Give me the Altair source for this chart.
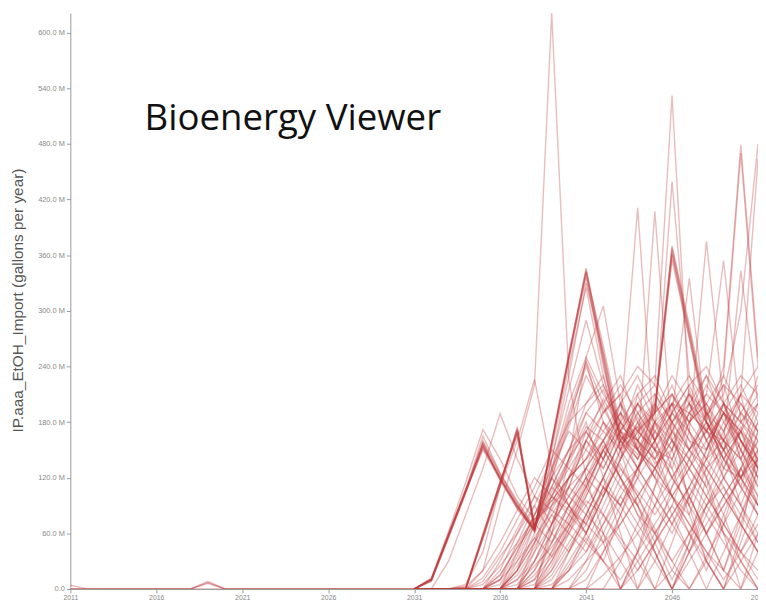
import altair as alt
import pandas as pd

# ---------------- data ----------------
years_early = list(range(2011, 2032))
years_main = list(range(2031, 2052))

early_series = {
    "E1": [4, 0, 0, 0, 0, 0, 0, 0, 0, 0, 0, 0, 0, 0, 0, 0, 0, 0, 0, 0, 0],
    "E2": [0, 0, 0, 0, 0, 0, 0, 0, 8, 0, 0, 0, 0, 0, 0, 0, 0, 0, 0, 0, 0],
    "E3": [0, 0, 0, 0, 0, 0, 0, 0, 6, 0, 0, 0, 0, 0, 0, 0, 0, 0, 0, 0, 0],
    "E4": [0, 0, 0, 0, 0, 0, 0, 0, 7, 0, 0, 0, 0, 0, 0, 0, 0, 0, 0, 0, 0],
}

# values in millions of gallons per year, 2031..2051
main_series = {
    "A1": [0, 10, 58, 106, 155, 119, 88, 63, 158, 252, 346, 250, 160, 172, 195, 368, 280, 190, 150, 210, 130],
    "A2": [0, 9, 56, 104, 152, 121, 90, 64, 156, 250, 340, 245, 158, 170, 192, 362, 275, 185, 220, 160, 140],
    "A3": [0, 11, 60, 108, 157, 117, 86, 62, 155, 248, 336, 240, 162, 175, 198, 370, 285, 195, 130, 120, 170],
    "A4": [0, 10, 57, 105, 150, 118, 89, 65, 150, 240, 325, 230, 165, 140, 200, 160, 130, 175, 120, 160, 130],
    "A5": [0, 8, 55, 103, 158, 123, 92, 61, 130, 200, 250, 210, 180, 150, 120, 190, 170, 140, 160, 110, 170],
    "A6": [0, 10, 59, 107, 165, 125, 95, 66, 128, 190, 245, 200, 155, 175, 135, 150, 215, 160, 130, 175, 140],
    "A7": [0, 10, 58, 106, 154, 120, 89, 64, 157, 251, 344, 255, 165, 150, 180, 200, 150, 120, 160, 140, 190],
    "A8": [0, 9, 57, 105, 156, 120, 87, 63, 157, 249, 342, 248, 150, 168, 190, 355, 270, 180, 140, 170, 150],
    "A9": [0, 10, 58, 107, 153, 118, 90, 64, 140, 215, 290, 220, 170, 130, 160, 210, 180, 150, 190, 160, 130],
    "A10": [0, 11, 59, 106, 160, 124, 93, 66, 120, 175, 230, 195, 160, 185, 150, 140, 190, 170, 150, 180, 200],
    "B1": [0, 0, 0, 0, 57, 114, 171, 65, 120, 180, 245, 180, 140, 210, 160, 120, 90, 150, 200, 140, 100],
    "B2": [0, 0, 0, 2, 60, 116, 168, 63, 125, 185, 240, 190, 210, 150, 130, 170, 140, 110, 150, 190, 160],
    "B3": [0, 0, 0, 0, 55, 112, 172, 62, 160, 255, 342, 262, 175, 160, 194, 365, 278, 188, 210, 300, 480],
    "B4": [0, 0, 0, 1, 58, 115, 165, 68, 110, 150, 200, 230, 150, 120, 210, 180, 150, 130, 170, 120, 140],
    "B5": [0, 0, 0, 0, 54, 110, 175, 70, 95, 120, 160, 205, 170, 140, 180, 220, 170, 140, 200, 160, 120],
    "B6": [0, 0, 0, 0, 56, 113, 170, 64, 140, 230, 330, 255, 170, 150, 190, 360, 272, 186, 160, 200, 170],
    "B7": [0, 0, 0, 1, 57, 113, 169, 66, 105, 140, 190, 215, 165, 145, 175, 200, 160, 150, 190, 170, 130],
    "B8": [0, 0, 0, 0, 58, 115, 173, 67, 100, 135, 175, 160, 190, 170, 150, 130, 180, 200, 160, 140, 180],
    "S1": [0, 0, 0, 0, 20, 90, 150, 220, 621, 225, 120, 60, 0, 40, 110, 180, 90, 30, 0, 60, 150],
    "S2": [0, 0, 0, 5, 40, 110, 160, 226, 130, 90, 60, 100, 150, 90, 40, 0, 50, 120, 80, 30, 0],
    "S3": [0, 12, 62, 115, 172, 140, 100, 75, 90, 110, 130, 160, 120, 80, 60, 90, 140, 110, 60, 40, 80],
    "S4": [0, 0, 30, 80, 130, 189, 140, 100, 70, 120, 170, 140, 110, 130, 170, 150, 100, 60, 100, 130, 90],
    "S5": [0, 0, 0, 0, 0, 10, 40, 80, 120, 150, 170, 140, 180, 411, 150, 100, 70, 40, 20, 80, 130],
    "S6": [0, 0, 0, 0, 0, 0, 20, 50, 90, 120, 140, 160, 190, 150, 407, 160, 120, 90, 110, 70, 40],
    "S7": [0, 0, 0, 0, 0, 0, 0, 30, 70, 100, 130, 180, 150, 200, 220, 532, 200, 160, 120, 90, 140],
    "S8": [0, 0, 0, 0, 0, 0, 15, 45, 80, 110, 160, 130, 170, 220, 180, 439, 230, 180, 140, 170, 120],
    "S9": [0, 0, 0, 0, 0, 0, 0, 0, 30, 70, 110, 150, 120, 160, 190, 210, 170, 375, 200, 150, 110],
    "S10": [0, 0, 0, 0, 0, 0, 0, 0, 0, 40, 80, 120, 160, 140, 170, 200, 190, 210, 354, 180, 150],
    "S11": [0, 0, 0, 0, 0, 0, 0, 0, 20, 60, 100, 140, 180, 150, 130, 170, 200, 180, 240, 479, 250],
    "S11b": [0, 0, 0, 0, 0, 0, 0, 0, 25, 65, 105, 150, 170, 160, 140, 180, 210, 170, 230, 470, 240],
    "S12": [0, 0, 0, 0, 0, 0, 0, 0, 0, 0, 30, 70, 110, 90, 130, 160, 140, 190, 170, 210, 464],
    "S13": [0, 0, 0, 0, 0, 0, 0, 0, 0, 20, 60, 110, 90, 130, 180, 150, 200, 170, 160, 343, 200],
    "S14": [0, 0, 0, 0, 0, 0, 0, 10, 50, 90, 120, 100, 140, 170, 150, 190, 335, 180, 140, 120, 160],
    "S15": [0, 0, 0, 0, 0, 0, 0, 20, 60, 140, 250, 305, 200, 150, 120, 100, 80, 130, 150, 90, 60],
    "F1": [0, 0, 0, 0, 0, 30, 65, 100, 85, 70, 110, 150, 120, 90, 60, 30, 60, 90, 120, 150, 120],
    "F2": [0, 0, 0, 0, 8, 35, 60, 90, 60, 40, 80, 120, 160, 130, 100, 70, 100, 130, 100, 70, 40],
    "F3": [0, 0, 0, 3, 20, 50, 85, 120, 100, 80, 60, 100, 140, 180, 150, 120, 90, 60, 90, 120, 150],
    "F4": [0, 0, 0, 0, 0, 15, 45, 70, 50, 90, 130, 110, 90, 120, 150, 180, 210, 180, 150, 120, 90],
    "F5": [0, 0, 0, 0, 0, 0, 25, 55, 35, 75, 115, 155, 130, 105, 80, 110, 140, 170, 140, 110, 80],
    "F6": [0, 0, 0, 0, 12, 40, 75, 110, 150, 130, 110, 150, 190, 160, 130, 100, 130, 160, 190, 160, 130],
    "L1": [0, 0, 0, 0, 0, 0, 20, 60, 100, 140, 180, 120, 60, 0, 50, 110, 170, 120, 60, 0, 60],
    "L2": [0, 0, 0, 0, 0, 0, 0, 30, 70, 110, 90, 50, 0, 40, 90, 140, 100, 60, 20, 70, 130],
    "L3": [0, 0, 0, 0, 0, 15, 45, 80, 120, 90, 60, 30, 80, 130, 180, 130, 80, 30, 0, 50, 100],
    "L4": [0, 0, 0, 0, 0, 0, 0, 0, 40, 80, 120, 160, 120, 80, 40, 0, 40, 80, 120, 90, 50],
    "L5": [0, 0, 0, 0, 0, 0, 0, 0, 0, 30, 60, 100, 140, 180, 140, 100, 60, 20, 70, 130, 180],
    "L6": [0, 0, 0, 0, 0, 0, 0, 0, 0, 0, 0, 40, 80, 120, 90, 60, 100, 140, 180, 150, 110],
    "L7": [0, 0, 0, 0, 0, 0, 10, 40, 70, 100, 130, 160, 200, 160, 120, 80, 40, 0, 40, 80, 120],
    "L8": [0, 0, 0, 0, 0, 0, 0, 0, 20, 50, 80, 60, 30, 0, 30, 70, 110, 150, 190, 140, 90],
    "L9": [0, 0, 0, 0, 0, 0, 0, 0, 0, 0, 20, 60, 100, 70, 40, 0, 40, 90, 60, 30, 0],
    "L10": [0, 0, 0, 0, 0, 0, 0, 15, 40, 70, 100, 140, 170, 200, 160, 120, 150, 190, 160, 120, 80],
    "L11": [0, 0, 0, 0, 0, 0, 0, 0, 0, 20, 50, 90, 130, 100, 60, 20, 0, 30, 80, 130, 100],
    "L12": [0, 0, 0, 0, 0, 0, 0, 0, 10, 40, 70, 110, 80, 40, 0, 50, 100, 60, 20, 0, 40],
    "L13": [0, 0, 0, 0, 0, 10, 30, 55, 85, 120, 150, 190, 220, 190, 160, 200, 230, 200, 170, 210, 190],
    "L14": [0, 0, 0, 0, 0, 0, 0, 0, 0, 0, 0, 0, 30, 70, 110, 150, 190, 230, 200, 160, 130],
    "L15": [0, 0, 0, 0, 0, 0, 20, 50, 80, 60, 40, 80, 120, 90, 50, 10, 50, 90, 130, 170, 140],
    "L16": [0, 0, 0, 0, 5, 25, 50, 75, 100, 85, 70, 110, 150, 200, 170, 140, 180, 220, 190, 150, 200],
    "L17": [0, 0, 0, 0, 0, 0, 0, 0, 0, 10, 30, 50, 70, 100, 130, 160, 130, 100, 70, 40, 20],
    "L18": [0, 0, 0, 0, 0, 0, 0, 5, 30, 65, 95, 80, 55, 30, 0, 20, 60, 100, 140, 110, 80],
    "L19": [0, 0, 0, 0, 0, 0, 0, 10, 35, 60, 90, 120, 90, 60, 30, 0, 30, 60, 90, 120, 150],
    "L20": [0, 0, 0, 0, 0, 0, 0, 0, 0, 0, 10, 40, 70, 100, 130, 100, 70, 40, 10, 40, 70],
    "L21": [0, 0, 0, 0, 0, 0, 5, 25, 45, 70, 50, 30, 10, 40, 70, 100, 130, 100, 70, 40, 10],
    "L22": [0, 0, 0, 0, 0, 0, 0, 0, 15, 45, 75, 105, 135, 100, 65, 30, 0, 35, 70, 105, 140],
    "L23": [0, 0, 0, 0, 0, 0, 0, 0, 0, 0, 0, 0, 0, 20, 50, 80, 110, 80, 50, 20, 0],
    "L24": [0, 0, 0, 0, 0, 0, 0, 20, 50, 80, 110, 80, 50, 20, 50, 80, 110, 140, 110, 80, 50],
    "L25": [0, 0, 0, 0, 0, 0, 0, 0, 0, 25, 55, 30, 0, 30, 60, 90, 60, 30, 0, 30, 60],
    "L26": [0, 0, 0, 0, 0, 0, 10, 30, 60, 90, 70, 50, 90, 130, 100, 70, 40, 70, 100, 130, 160],
    "L27": [0, 0, 0, 0, 0, 0, 0, 0, 5, 20, 40, 70, 100, 130, 160, 190, 160, 130, 100, 70, 40],
    "L28": [0, 0, 0, 0, 0, 0, 0, 0, 0, 0, 0, 15, 35, 60, 90, 120, 150, 180, 150, 120, 90],
    "M1": [0, 0, 0, 0, 0, 20, 60, 100, 140, 180, 200, 220, 180, 210, 230, 190, 220, 240, 200, 230, 210],
    "M2": [0, 0, 0, 0, 0, 0, 30, 70, 110, 150, 190, 170, 200, 230, 190, 210, 180, 200, 230, 190, 220],
    "M3": [0, 0, 0, 0, 0, 0, 0, 40, 90, 140, 170, 200, 230, 180, 200, 170, 210, 190, 220, 200, 170],
    "M4": [0, 0, 0, 0, 0, 0, 0, 0, 60, 110, 160, 190, 210, 240, 220, 180, 200, 230, 180, 210, 240],
    "M5": [0, 0, 0, 0, 0, 10, 50, 90, 130, 170, 150, 130, 170, 200, 180, 160, 190, 170, 200, 180, 160],
    "M6": [0, 0, 0, 0, 0, 0, 40, 80, 110, 90, 120, 150, 180, 160, 140, 170, 150, 180, 160, 190, 170],
    "M7": [0, 0, 0, 0, 0, 0, 20, 70, 120, 100, 80, 120, 160, 190, 210, 180, 150, 170, 200, 180, 210],
    "M8": [0, 0, 0, 0, 0, 5, 35, 75, 95, 120, 140, 180, 160, 130, 160, 190, 220, 180, 150, 170, 200],
    "M9": [0, 0, 0, 0, 0, 0, 0, 50, 100, 130, 160, 140, 200, 170, 190, 230, 200, 160, 190, 220, 180],
    "M10": [0, 0, 0, 0, 0, 0, 0, 0, 70, 120, 140, 170, 150, 190, 160, 200, 180, 210, 190, 170, 230],
}

x_ticks = [2011, 2016, 2021, 2026, 2031, 2036, 2041, 2046, 2051]
y_ticks_m = [0, 60, 120, 180, 240, 300, 360, 420, 480, 540, 600]
title_text = ["Bioenergy Viewer"]

rows = []
for name, vals in early_series.items():
    for yr, v in zip(years_early, vals):
        rows.append({"series": name, "year": yr, "value": v * 1e6})
for name, vals in main_series.items():
    for yr, v in zip(years_main, vals):
        rows.append({"series": name, "year": yr, "value": v * 1e6})
df = pd.DataFrame(rows)

LINE_COLOR = "#bf3a3f"

lines = alt.Chart(df).mark_line(
    color=LINE_COLOR, opacity=0.34, strokeWidth=1.4, clip=True
).encode(
    x=alt.X(
        "year:Q",
        scale=alt.Scale(domain=[2011, 2051], nice=False, zero=False),
        axis=alt.Axis(
            values=x_ticks, format="d", title=None, grid=False,
            labelFontSize=7, labelColor="#888", labelFont="Liberation Sans",
            labelPadding=1, tickSize=4, tickColor="#999", domainColor="#999",
            labelFlush=False,
        ),
    ),
    y=alt.Y(
        "value:Q",
        scale=alt.Scale(domain=[0, 621e6], nice=False),
        axis=alt.Axis(
            values=[v * 1e6 for v in y_ticks_m],
            labelExpr="datum.value == 0 ? '0.0' : format(datum.value / 1e6, '.1f') + ' M'",
            title="IP.aaa_EtOH_Import (gallons per year)",
            titleFontSize=15.5, titleFontWeight="normal", titleColor="#555",
            titleFont="Liberation Sans", titleX=-45, titleY=290,
            grid=False, labelFontSize=7.5, labelColor="#888",
            labelFont="Liberation Sans", labelPadding=2, tickSize=4,
            tickColor="#999", domainColor="#999",
        ),
    ),
    detail="series:N",
)

title = alt.Chart(pd.DataFrame({"t": title_text})).mark_text(
    align="left", baseline="alphabetic", fontSize=37, font="Open Sans",
    color="#111",
).encode(
    x=alt.value(75),
    y=alt.value(118),
    text="t:N",
)

chart = alt.layer(lines, title).properties(
    width=695,
    height=582,
    autosize=alt.AutoSizeParams(type="none"),
    padding={"left": 63, "top": 2, "right": 0, "bottom": 11},
).configure_view(stroke=None)

chart.save("out.html", embed_options={"renderer": "svg", "actions": False})
